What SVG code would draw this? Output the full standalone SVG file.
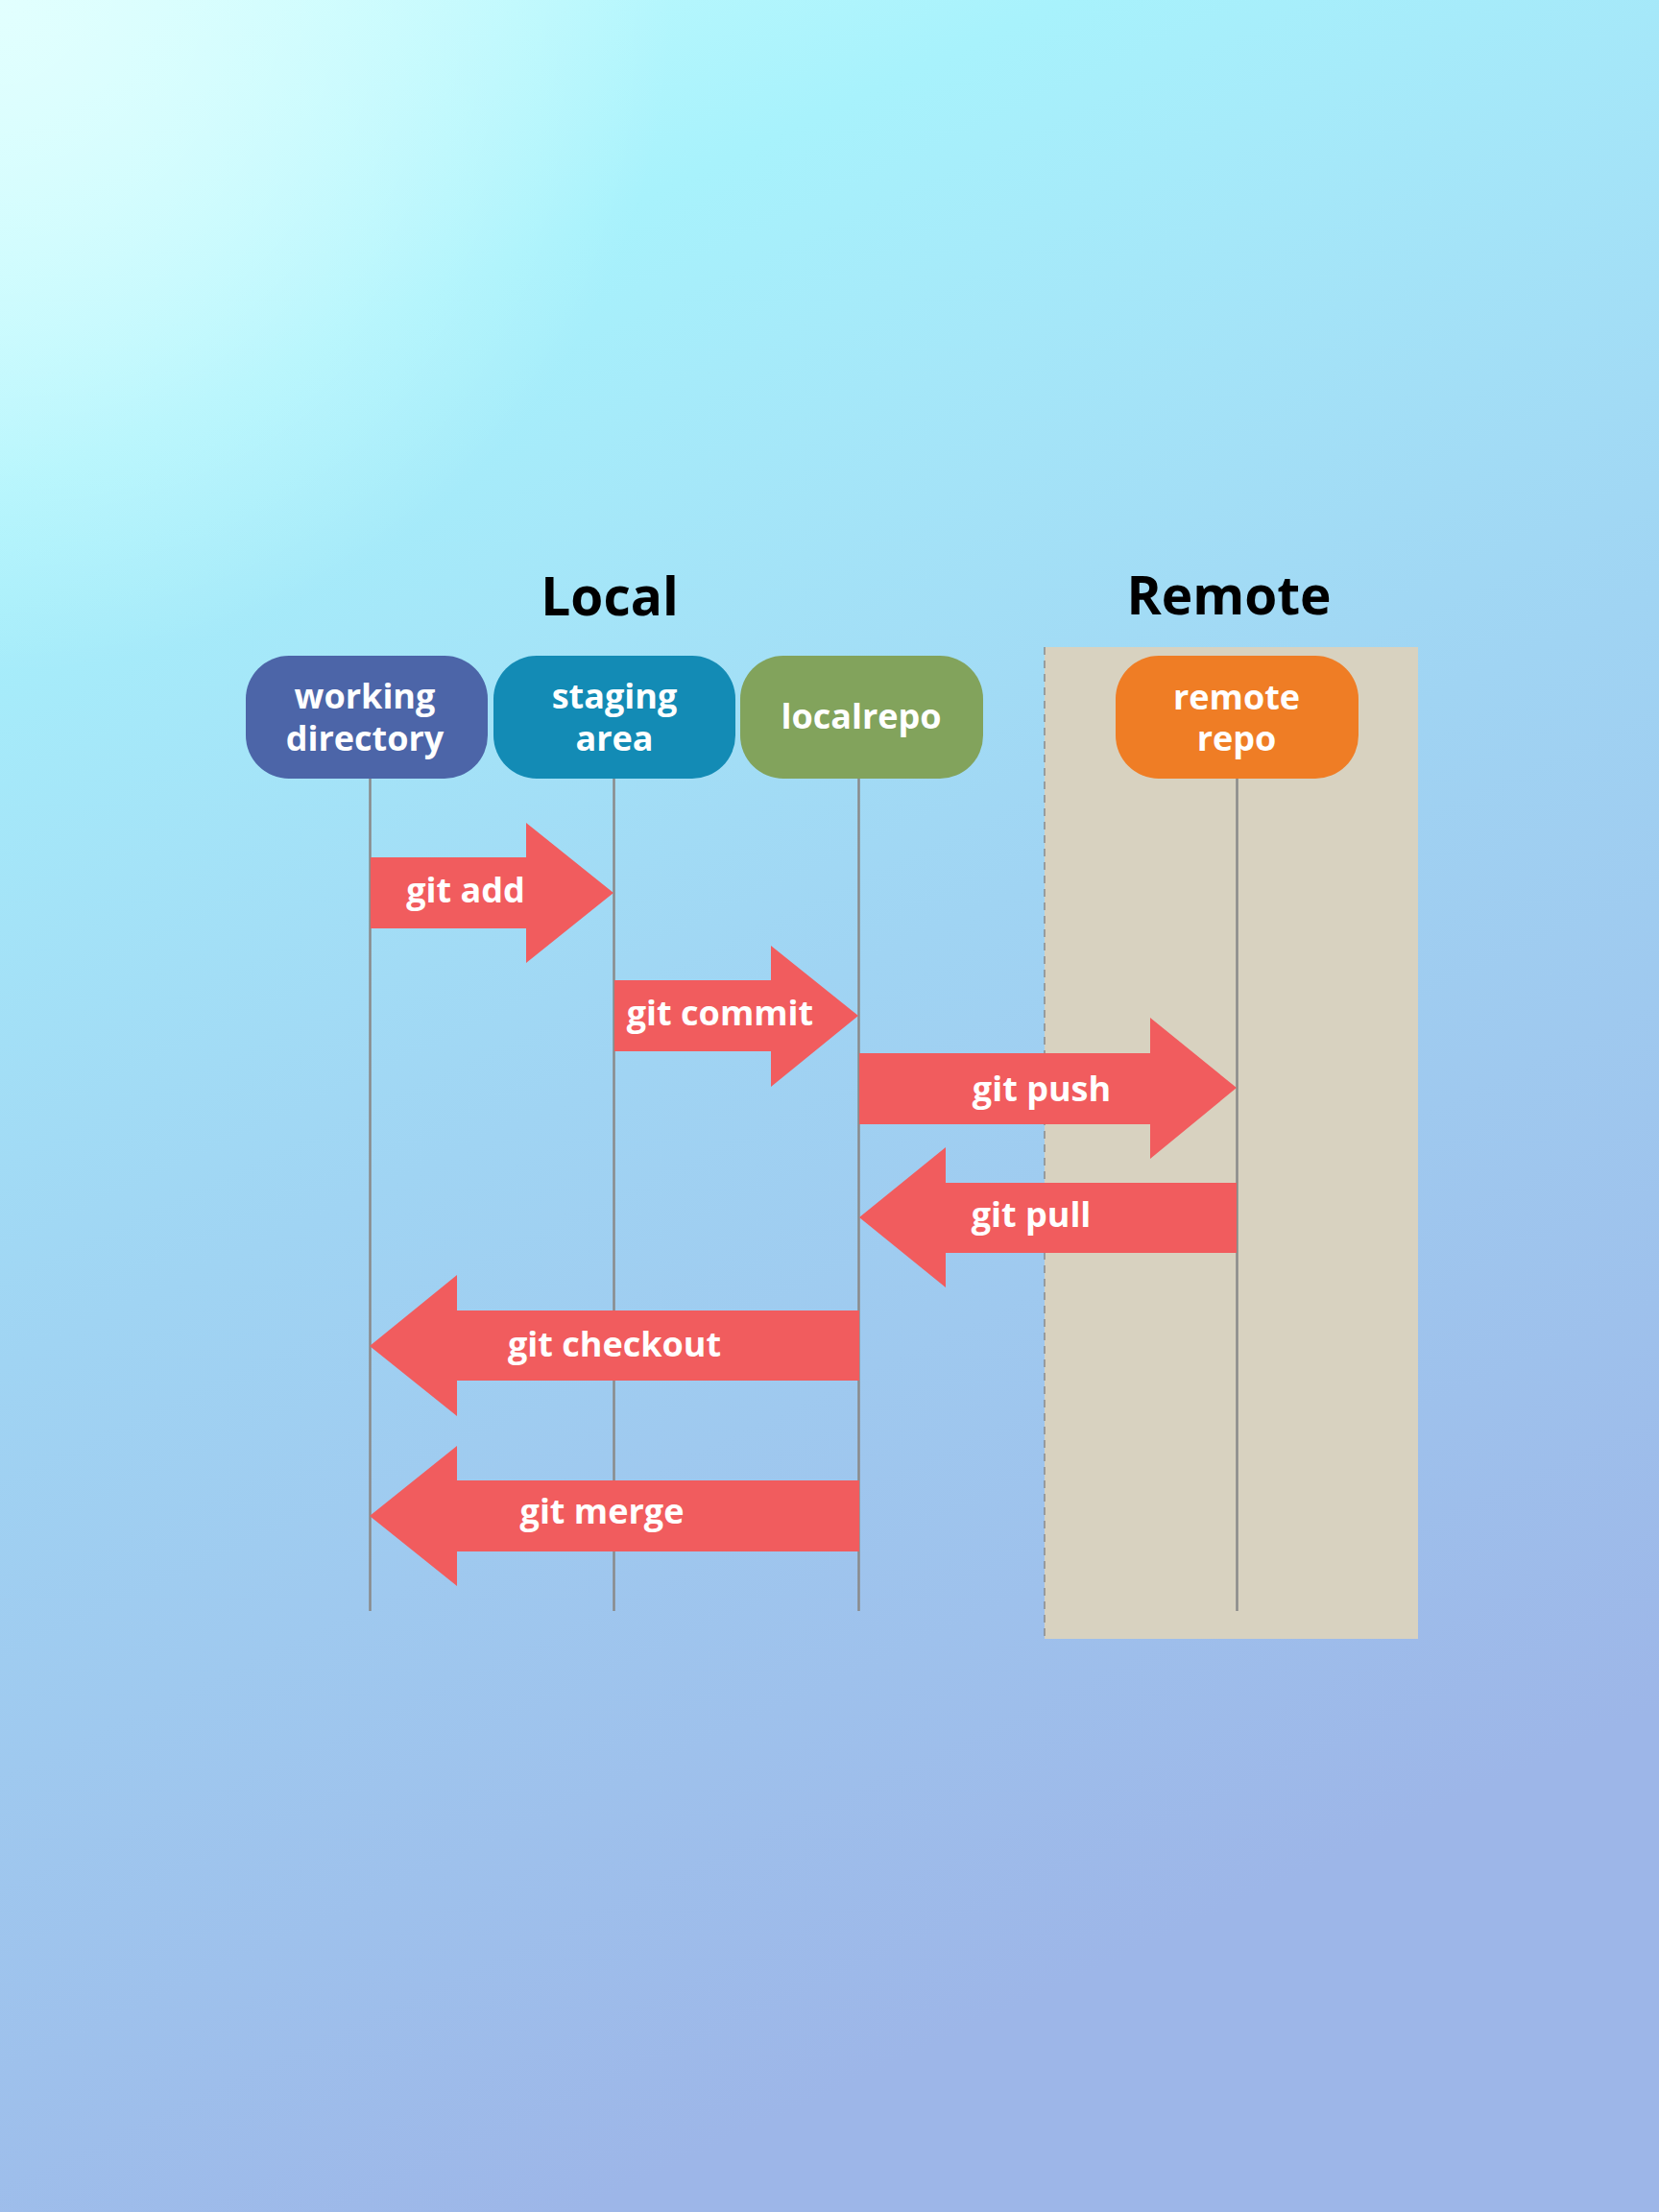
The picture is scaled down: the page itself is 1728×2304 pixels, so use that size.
<svg xmlns="http://www.w3.org/2000/svg" width="1728" height="2304" viewBox="0 0 1728 2304">
<defs>
<linearGradient id="bg" x1="0" y1="0" x2="0.35" y2="1">
<stop offset="0" stop-color="#c8fdfe"/>
<stop offset="0.2" stop-color="#a8f2fc"/>
<stop offset="0.55" stop-color="#a0d4f3"/>
<stop offset="1" stop-color="#9db6e8"/>
</linearGradient>
<radialGradient id="glow" cx="0" cy="0" r="700" gradientUnits="userSpaceOnUse">
<stop offset="0" stop-color="#e2fffe" stop-opacity="1"/>
<stop offset="1" stop-color="#e2fffe" stop-opacity="0"/>
</radialGradient>
<style>
.title{font-family:"Open Sans","Noto Sans","Liberation Sans",sans-serif;font-weight:700;font-size:55px;fill:#000;text-anchor:middle}
.nt{font-family:"Open Sans","Noto Sans","Liberation Sans",sans-serif;font-weight:700;font-size:36px;fill:#fff;text-anchor:middle}
.at{font-family:"Open Sans","Noto Sans","Liberation Sans",sans-serif;font-weight:700;font-size:36px;fill:#fff;text-anchor:middle}
.life{stroke:#8a8a8a;stroke-width:2.5;fill:none}
.arrow{fill:#f15c5e}
</style>
</defs>
<rect x="0" y="0" width="1728" height="2304" fill="url(#bg)"/>
<rect x="0" y="0" width="1728" height="2304" fill="url(#glow)"/>

<g id="remote-zone">
<rect x="1088" y="674" width="389" height="1033" fill="#d8d2c0"/>
<line x1="1088" y1="674" x2="1088" y2="1707" stroke="#8a8a8a" stroke-width="1.5" stroke-dasharray="8,6"/>
</g>

<text class="title" x="635" y="641">Local</text>
<text class="title" x="1280" y="640">Remote</text>

<g id="lifelines">
<line class="life" x1="385.5" y1="811" x2="385.5" y2="1678"/>
<line class="life" x1="639.5" y1="811" x2="639.5" y2="1678"/>
<line class="life" x1="894.5" y1="811" x2="894.5" y2="1678"/>
<line class="life" x1="1288.5" y1="811" x2="1288.5" y2="1678"/>
</g>

<g id="node-working">
<rect x="256" y="683" width="252" height="128" rx="45" ry="45" fill="#4c65a8"/>
<text class="nt" x="380" y="738">working</text>
<text class="nt" x="380" y="782">directory</text>
</g>
<g id="node-staging">
<rect x="514" y="683" width="252" height="128" rx="45" ry="45" fill="#138bb5"/>
<text class="nt" x="640" y="738">staging</text>
<text class="nt" x="640" y="782">area</text>
</g>
<g id="node-localrepo">
<rect x="771" y="683" width="253" height="128" rx="45" ry="45" fill="#82a35c"/>
<text class="nt" x="897" y="759">localrepo</text>
</g>
<g id="node-remote">
<rect x="1162" y="683" width="253" height="128" rx="45" ry="45" fill="#ef7d25"/>
<text class="nt" x="1288" y="739">remote</text>
<text class="nt" x="1288" y="782">repo</text>
</g>

<g id="connectors">
<g id="git-add">
<polygon class="arrow" points="386,893 548,893 548,857 639,930 548,1003 548,967 386,967"/>
<text class="at" x="485" y="940">git add</text>
</g>
<g id="git-commit">
<polygon class="arrow" points="640,1021 803,1021 803,985 894,1058 803,1132 803,1095 640,1095"/>
<text class="at" x="750" y="1068">git commit</text>
</g>
<g id="git-push">
<polygon class="arrow" points="895,1097 1198,1097 1198,1060 1288,1133 1198,1207 1198,1171 895,1171"/>
<text class="at" x="1085" y="1147">git push</text>
</g>
<g id="git-pull">
<polygon class="arrow" points="1288,1232 985,1232 985,1195 895,1268 985,1341 985,1305 1288,1305"/>
<text class="at" x="1074" y="1278">git pull</text>
</g>
<g id="git-checkout">
<polygon class="arrow" points="895,1365 476,1365 476,1328 385,1402 476,1475 476,1438 895,1438"/>
<text class="at" x="640" y="1413">git checkout</text>
</g>
<g id="git-merge">
<polygon class="arrow" points="895,1542 476,1542 476,1506 385,1579 476,1652 476,1616 895,1616"/>
<text class="at" x="627" y="1587">git merge</text>
</g>
</g>
</svg>
